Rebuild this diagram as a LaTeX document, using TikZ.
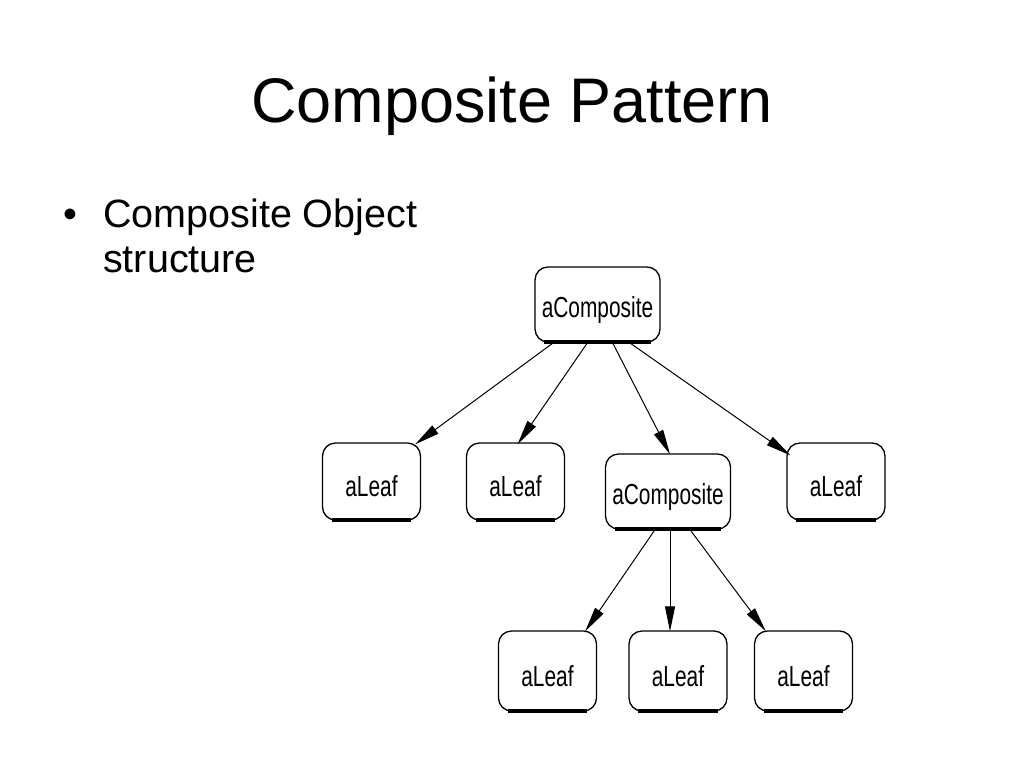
\documentclass[tikz,border=0pt]{standalone}
\usepackage{fontspec}
\setmainfont{Liberation Sans}
\usetikzlibrary{arrows.meta}
\begin{document}
\begin{tikzpicture}[x=1pt,y=-1pt,
  obj/.style={draw=black, line width=1.3pt, rounded corners=13pt, inner sep=0pt,
              font=\fontsize{29}{30}\selectfont},
  leaf/.style={obj, minimum width=98pt, minimum height=77pt},
  comp/.style={obj, minimum width=125pt, minimum height=75pt},
  arr/.style={line width=1pt, -{Triangle[length=25pt,width=10pt]}},
  botedge/.style={line width=4pt},
  bodytext/.style={anchor=base west, inner sep=0pt, font=\fontsize{39.5}{46}\selectfont}
]
\useasboundingbox (0,0) rectangle (1024,768);
\fill[white] (0,0) rectangle (1024,768);

% title and bullet
\node[anchor=base, inner sep=0pt, font=\fontsize{63}{70}\selectfont] (title) at (512,122) {Composite Pattern};
\node[bodytext] (bul) at (63,227) {•};
\node[bodytext] (txt1) at (103,227) {Composite Object};
\node[bodytext] (txt2) at (103,272) {structure};

% boxes
\newcommand{\boxlabel}[1]{\raisebox{-5pt}[\height][\depth]{\scalebox{0.72}[1]{#1}}}
\node[comp] (top) at (597.5,304.5) {\boxlabel{aComposite}};
\node[leaf] (l1) at (371.5,481.5) {\boxlabel{aLeaf}};
\node[leaf] (l2) at (515.5,481.5) {\boxlabel{aLeaf}};
\node[comp] (c2) at (668,491.5) {\boxlabel{aComposite}};
\node[leaf] (l3) at (836,481.5) {\boxlabel{aLeaf}};
\node[leaf, minimum height=80pt] (l4) at (547.5,671) {\boxlabel{aLeaf}};
\node[leaf, minimum height=80pt] (l5) at (678,671) {\boxlabel{aLeaf}};
\node[leaf, minimum height=80pt] (l6) at (803.5,671) {\boxlabel{aLeaf}};

% thick bottom edges
\foreach \n in {top,l1,l2,c2,l3,l4,l5,l6}
  \draw[botedge] ([xshift=10pt,yshift=1pt]\n.south west) -- ([xshift=-10pt,yshift=1pt]\n.south east);

% connectors
\draw[arr] ([xshift=-44pt]top.south) -- ([xshift=-6pt,yshift=-2pt]l1.north east);
\draw[arr] ([xshift=-10pt]top.south) -- ([xshift=2pt,yshift=-2pt]l2.north);
\draw[arr] ([xshift=15pt]top.south) -- ([xshift=2pt,yshift=-1pt]c2.north);
\draw[arr] ([xshift=32pt]top.south) -- ([xshift=4pt,yshift=-13pt]l3.north west);
\draw[arr] ([xshift=-13pt]c2.south) -- ([xshift=-12pt,yshift=-1pt]l4.north east);
\draw[arr] ([xshift=2pt]c2.south) -- ([xshift=-8pt,yshift=-1pt]l5.north);
\draw[arr] ([xshift=22pt]c2.south) -- ([xshift=12pt,yshift=-1pt]l6.north west);
\end{tikzpicture}
\end{document}
